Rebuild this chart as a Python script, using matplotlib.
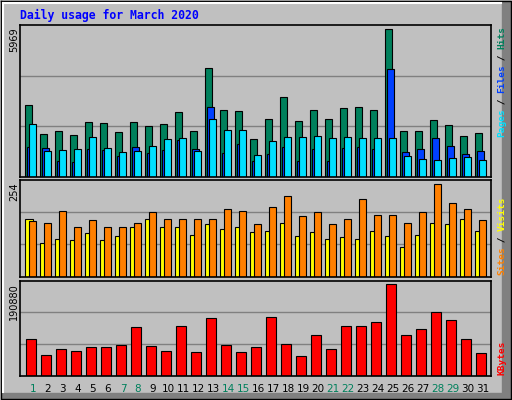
import matplotlib
matplotlib.use("Agg")
import matplotlib.pyplot as plt
import numpy as np
from matplotlib.patches import Rectangle

days = list(range(1, 32))
hits = [2889,1715,1836,1674,2200,2160,1795,2200,2038,2120,2605,1836,4387,2686,2646,1512,
        2322,3213,2241,2686,2322,2767,2808,2686,5969,1836,1836,2281,2079,1633,1755]
files = [1200,1150,635,580,1107,1080,837,1200,945,1080,1485,1107,2808,945,1310,621,
         905,1188,621,1107,621,1150,1188,1107,4347,985,1107,1552,1228,905,1026]
pages = [2120,1026,1066,1107,1593,1150,985,1026,1228,1512,1552,1026,2322,1876,1876,864,
         1431,1593,1593,1633,1552,1593,1552,1552,1552,823,702,661,742,783,661]
visits = [159,92,103,100,119,100,111,136,158,136,138,114,144,130,136,122,
          125,147,111,122,103,108,105,127,111,81,114,149,144,160,125]
sites = [152,147,182,138,155,136,136,147,177,158,160,160,160,185,180,144,
         193,221,166,177,144,158,215,171,169,147,177,254,202,185,155]
kbytes = [75930,42490,55030,50850,59210,59210,63390,101010,61300,50850,103100,48760,119820,63390,48760,59210,
          121900,65480,40400,84290,55030,103100,103100,111460,190880,84290,96830,132350,115640,75930,46670]
weekend = [1,7,8,14,15,21,22,28,29]

W, H = 512, 400
fig = plt.figure(figsize=(5.12, 4.0), dpi=100, facecolor="#C0C0C0")
mono = "DejaVu Sans Mono"

# bevel border
bg = fig.add_axes([0, 0, 1, 1]); bg.set_axis_off(); bg.set_xlim(0, W); bg.set_ylim(H, 0)
bg.plot([1, W-1, W-1, 1, 1], [1, 1, H-1, H-1, 1], color="black", lw=1)
bg.plot([3, W-11], [3, 3], color="white", lw=1.5)
bg.plot([3, 3], [3, H-8], color="white", lw=1.5)
bg.add_patch(Rectangle((W-10, 2), 8, H-4, color="#808080"))
bg.add_patch(Rectangle((2, H-7), W-4, 5, color="#808080"))

x0, x1 = 20, 491
xl0 = 0.347
xl1 = xl0 + (x1 - x0) / 15.0
d = np.array(days)

def mkax(top, bot):
    ax = fig.add_axes([x0/W, 1-bot/H, (x1-x0)/W, (bot-top)/H])
    ax.set_facecolor("#C0C0C0")
    ax.set_xlim(xl0, xl1)
    ax.set_xticks([]); ax.set_yticks([])
    for s in ax.spines.values():
        s.set_color("black"); s.set_linewidth(1.2)
    return ax

def grid(ax, ymax):
    for f in (1/3, 2/3):
        ax.axhline(ymax*f, color="#808080", lw=1, zorder=0)

bw = 7/15
kw = dict(edgecolor="black", linewidth=0.8, align="edge")
ax1 = mkax(25, 176.7)
ym1 = 6143; ax1.set_ylim(0, ym1); grid(ax1, ym1)
ax1.bar(d-0.3, hits, bw, color="#00805C", **kw)
ax1.bar(d-0.3+2/15, files, bw, color="#0040FF", **kw)
ax1.bar(d-0.3+4/15, pages, bw, color="#00E0FF", **kw)

ax2 = mkax(180, 276.7)
ym2 = 266; ax2.set_ylim(0, ym2); grid(ax2, ym2)
ax2.bar(d-0.3, visits, 0.5, color="#FFFF00", **kw)
ax2.bar(d-0.3+4/15, sites, bw, color="#FF8000", **kw)

ax3 = mkax(280.7, 375.7)
ym3 = 198400; ax3.set_ylim(0, ym3); grid(ax3, ym3)
ax3.bar(d-0.233, kbytes, 10/15, color="#FF0000", **kw)

# day labels
for dd in days:
    xp = x0 + (dd + 0.21 - xl0) * 15
    bg.text(xp, 389, str(dd), ha="center", va="center", fontsize=7.5,
            color="#00805C" if dd in weekend else "black")

bg.text(20, 15, "Daily usage for March 2020", fontsize=8.3, fontweight="bold",
        family=mono, color="#0000FF", va="center", ha="left")

# left max labels
for y, s in [(27, str(max(hits))), (182, str(max(max(sites), max(visits)))), (283, str(max(kbytes)))]:
    bg.text(14, y, s, rotation=90, ha="center", va="top", fontsize=7)

def rlabel(ybot, parts):
    y = ybot
    for txt, col in parts:
        bg.text(502, y, txt, rotation=90, ha="center", va="bottom", fontsize=6.8,
                family=mono, color=col, fontweight="bold")
        y -= 5.5 * len(txt)

rlabel(137, [("Pages", "#00E0FF"), (" / ", "black"), ("Files", "#0040FF"), (" / ", "black"), ("Hits", "#00805C")])
rlabel(275, [("Sites", "#FF8000"), (" / ", "black"), ("Visits", "#FFFF00")])
rlabel(375, [("KBytes", "#FF0000")])

fig.savefig("out.png", dpi=100, facecolor=fig.get_facecolor())
